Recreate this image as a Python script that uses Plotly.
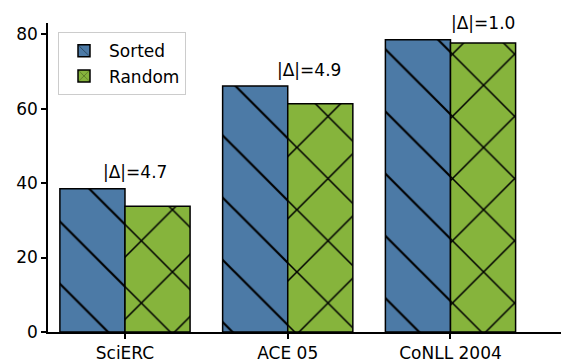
import plotly.graph_objects as go

categories = ["SciERC", "ACE 05", "CoNLL 2004"]
sorted_vals = [38.5, 66.1, 78.5]
random_vals = [33.8, 61.3, 77.6]
delta_labels = ["|Δ|=4.7", "|Δ|=4.9", "|Δ|=1.0"]
y_ticks = [0, 20, 40, 60, 80]

BLUE = "#4c7aa6"
GREEN = "#86b43c"
FONT = "DejaVu Sans"

fig = go.Figure()
fig.add_trace(go.Bar(
    x=categories, y=sorted_vals, name="Sorted",
    marker=dict(color=BLUE, line=dict(color="black", width=1.5),
                pattern=dict(shape="\\", fillmode="replace", bgcolor=BLUE,
                             fgcolor="black", size=44, solidity=0.05)),
))
fig.add_trace(go.Bar(
    x=categories, y=random_vals, name="Random",
    marker=dict(color=GREEN, line=dict(color="black", width=1.5),
                pattern=dict(shape="x", fillmode="replace", bgcolor=GREEN,
                             fgcolor="black", size=44, solidity=0.07)),
))

for i, (lab, v) in enumerate(zip(delta_labels, sorted_vals)):
    fig.add_annotation(x=i * 1.07 + 0.06, y=v + 4.4, text=lab, showarrow=False,
                       xanchor="center", yanchor="middle",
                       font=dict(family=FONT, size=17, color="black"))

fig.update_layout(
    width=561, height=363,
    margin=dict(l=48, r=0, t=23, b=29, pad=0),
    paper_bgcolor="white", plot_bgcolor="white",
    barmode="group", bargap=0.2, bargroupgap=0,
    font=dict(family=FONT, size=17, color="black"),
    legend=dict(x=0.0195, y=0.97, xanchor="left", yanchor="top",
                bgcolor="rgba(255,255,255,0.8)", bordercolor="#cccccc",
                borderwidth=1, font=dict(family=FONT, size=17),
                itemwidth=40, tracegroupgap=4),
)
fig.update_xaxes(
    type="category", range=[-0.473, 2.679],
    showline=True, linecolor="black", linewidth=1.5,
    ticks="outside", ticklen=5, tickwidth=1.5, tickcolor="black",
    showgrid=False, zeroline=False,
    tickfont=dict(family=FONT, size=17, color="black"),
)
fig.update_yaxes(
    range=[0, 83], tickvals=y_ticks,
    showline=True, linecolor="black", linewidth=1.5,
    ticks="outside", ticklen=5, tickwidth=1.5, tickcolor="black",
    showgrid=False, zeroline=False,
    tickfont=dict(family=FONT, size=17, color="black"),
)

fig.write_html("out.html", config={"displayModeBar": False},
               post_script="document.body.style.margin='0';")
